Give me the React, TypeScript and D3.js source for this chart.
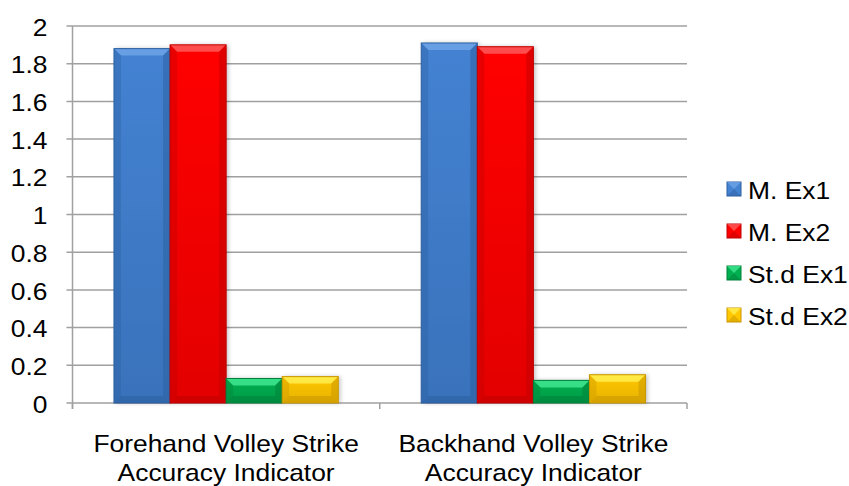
import React from 'react'
import * as d3 from 'd3'

const categories = ['Forehand Volley Strike|Accuracy Indicator', 'Backhand Volley Strike|Accuracy Indicator']
const seriesNames = ['M. Ex1', 'M. Ex2', 'St.d Ex1', 'St.d Ex2']
const mEx1 = [1.88, 1.91]
const mEx2 = [1.9, 1.89]
const stdEx1 = [0.13, 0.12]
const stdEx2 = [0.14, 0.15]
const yTicks = [0, 0.2, 0.4, 0.6, 0.8, 1, 1.2, 1.4, 1.6, 1.8, 2]

// colours per series: [light, base, dark]
const palette = [
    ['#6ea3e6', '#4482d2', '#2c5f9f'],
    ['#ff5a5a', '#ff0000', '#c00000'],
    ['#40e690', '#00b050', '#00803a'],
    ['#ffee50', '#ffc800', '#c89600'],
]

const W = 849
const H = 486
const margin = { top: 26, right: 162, bottom: 83, left: 72.5 }
const innerW = W - margin.left - margin.right
const innerH = H - margin.top - margin.bottom
const font = 'Arial, "Liberation Sans", sans-serif'
const fs = 24
const sx = 1.1 // the reference text is a little wide

export default function App() {
    const values = [mEx1, mEx2, stdEx1, stdEx2]

    const x0 = d3.scaleBand<number>().domain(d3.range(categories.length)).range([0, innerW]).paddingInner(0).paddingOuter(0)
    const groupW = x0.bandwidth() * 0.73
    const x1 = d3.scaleBand<number>().domain(d3.range(seriesNames.length)).range([0, groupW])
    const y = d3.scaleLinear().domain([0, 2]).range([innerH, 0])

    const bevel = 7

    return (
        <svg width={W} height={H} style={{ position: 'absolute', left: 0, top: 0 }} fontFamily={font}>
            <defs>
                {palette.map((p, i) => (
                    <linearGradient key={i} id={`g${i}`} x1="0" y1="0" x2="0" y2="1">
                        <stop offset="0" stopColor={p[1]} />
                        <stop offset="1" stopColor={d3.interpolateRgb(p[1], p[2])(0.45)} />
                    </linearGradient>
                ))}
                <filter id="shadow" x="-20%" y="-20%" width="140%" height="140%">
                    <feDropShadow dx="2" dy="0" stdDeviation="2" floodColor="#000" floodOpacity="0.25" />
                </filter>
            </defs>
            <g transform={`translate(${margin.left},${margin.top})`}>
                {/* gridlines */}
                {yTicks.map((t) => (
                    <line key={t} x1={-6} x2={innerW} y1={y(t)} y2={y(t)} stroke="#a0a0a0" strokeWidth={1.5} />
                ))}
                {/* y axis */}
                <line x1={0} x2={0} y1={0} y2={innerH + 6} stroke="#a0a0a0" strokeWidth={1.5} />
                {yTicks.map((t) => (
                    <text
                        key={t}
                        transform={`translate(-25,${y(t)}) scale(${sx},1)`}
                        dy="0.4em"
                        textAnchor="end"
                        fontSize={fs}
                        fill="#000"
                    >
                        {d3.format('~g')(t)}
                    </text>
                ))}
                {/* x ticks */}
                {d3.range(categories.length + 1).map((i) => {
                    const xx = i * x0.step()
                    return <line key={i} x1={xx} x2={xx} y1={innerH} y2={innerH + 6} stroke="#a0a0a0" strokeWidth={1.5} />
                })}
                {/* bars */}
                {categories.map((c, ci) => (
                    <g key={c} transform={`translate(${x0(ci)! + (x0.bandwidth() - groupW) / 2},0)`}>
                        {values.map((s, si) => {
                            const bx = x1(si)!
                            const bw = x1.bandwidth()
                            const by = y(s[ci])
                            const bh = innerH - by
                            const b = Math.min(bevel, bh / 2)
                            const p = palette[si]
                            return (
                                <g key={si}>
                                    <rect x={bx} y={by} width={bw} height={bh} fill={`url(#g${si})`} filter="url(#shadow)" />
                                    <polygon
                                        points={`${bx},${by} ${bx + bw},${by} ${bx + bw - b},${by + b} ${bx + b},${by + b}`}
                                        fill={p[0]}
                                        opacity={0.85}
                                    />
                                    <polygon
                                        points={`${bx},${by} ${bx + b},${by + b} ${bx + b},${by + bh - b} ${bx},${by + bh}`}
                                        fill={p[2]}
                                        opacity={0.35}
                                    />
                                    <polygon
                                        points={`${bx + bw},${by} ${bx + bw - b},${by + b} ${bx + bw - b},${by + bh - b} ${bx + bw},${by + bh}`}
                                        fill={p[2]}
                                        opacity={0.5}
                                    />
                                    <polygon
                                        points={`${bx},${by + bh} ${bx + b},${by + bh - b} ${bx + bw - b},${by + bh - b} ${bx + bw},${by + bh}`}
                                        fill={p[2]}
                                        opacity={0.55}
                                    />
                                    <rect x={bx} y={by} width={bw} height={bh} fill="none" stroke={p[2]} strokeWidth={1} />
                                </g>
                            )
                        })}
                    </g>
                ))}
                {/* category labels */}
                {categories.map((c, ci) =>
                    c.split('|').map((line, li) => (
                        <text
                            key={c + li}
                            transform={`translate(${x0(ci)! + x0.bandwidth() / 2},${innerH + 49 + li * 29}) scale(${sx},1)`}
                            textAnchor="middle"
                            fontSize={fs}
                            fill="#000"
                        >
                            {line}
                        </text>
                    )),
                )}
            </g>
            {/* legend */}
            <g transform="translate(727,189)">
                {seriesNames.map((n, i) => {
                    const p = palette[i]
                    const s = 14
                    return (
                        <g key={n} transform={`translate(0,${i * 42})`}>
                            <rect x={0} y={-s / 2} width={s} height={s} fill={p[1]} stroke={p[2]} strokeWidth={1} />
                            <polygon points={`0,${-s / 2} ${s},${-s / 2} ${s / 2},0`} fill={p[0]} opacity={0.8} />
                            <polygon points={`0,${s / 2} ${s},${s / 2} ${s / 2},0`} fill={p[2]} opacity={0.5} />
                            <text transform={`translate(21,0) scale(${sx},1)`} dy="0.4em" fontSize={fs} fill="#000">
                                {n}
                            </text>
                        </g>
                    )
                })}
            </g>
        </svg>
    )
}
